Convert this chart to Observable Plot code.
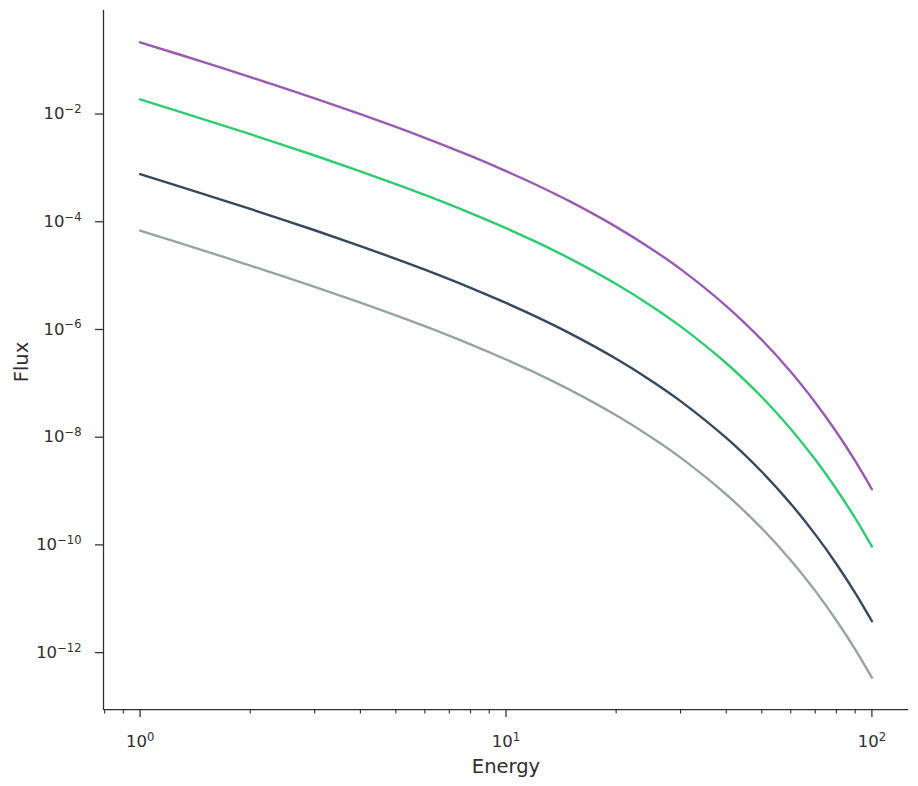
<!DOCTYPE html>
<html>
<head>
<meta charset="utf-8">
<script src="https://cdn.jsdelivr.net/npm/d3@7"></script>
<script src="https://cdn.jsdelivr.net/npm/@observablehq/plot@0.6"></script>
<style>
  html, body { margin: 0; padding: 0; background: #ffffff; }
</style>
</head>
<body>
<div id="chart"></div>
<script>
// ---- Data ----
const energy = [1, 1.5, 2, 3, 4, 5, 6, 8, 10, 12, 15, 20, 25, 30, 40, 50, 60, 70, 80, 90, 100];

const fluxPurple = [2.15e-1, 9.09e-2, 4.86e-2, 1.96e-2, 9.96e-3, 5.77e-3, 3.62e-3, 1.67e-3, 8.74e-4, 4.97e-4, 2.36e-4, 8.04e-5, 3.12e-5, 1.32e-5, 2.72e-6, 6.41e-7, 1.64e-7, 4.42e-8, 1.25e-8, 3.62e-9, 1.08e-9];
const fluxGreen  = [1.87e-2, 7.90e-3, 4.23e-3, 1.70e-3, 8.65e-4, 5.01e-4, 3.15e-4, 1.45e-4, 7.60e-5, 4.32e-5, 2.05e-5, 6.99e-6, 2.71e-6, 1.14e-6, 2.36e-7, 5.57e-8, 1.42e-8, 3.84e-9, 1.08e-9, 3.15e-10, 9.38e-11];
const fluxDark   = [7.65e-4, 3.23e-4, 1.73e-4, 6.96e-5, 3.54e-5, 2.05e-5, 1.29e-5, 5.94e-6, 3.11e-6, 1.77e-6, 8.38e-7, 2.86e-7, 1.11e-7, 4.68e-8, 9.68e-9, 2.28e-9, 5.82e-10, 1.57e-10, 4.43e-11, 1.29e-11, 3.84e-12];
const fluxGray   = [6.82e-5, 2.88e-5, 1.54e-5, 6.20e-6, 3.16e-6, 1.83e-6, 1.15e-6, 5.29e-7, 2.77e-7, 1.58e-7, 7.47e-8, 2.55e-8, 9.89e-9, 4.17e-9, 8.62e-10, 2.03e-10, 5.19e-11, 1.40e-11, 3.95e-12, 1.15e-12, 3.42e-13];

const seriesNames  = ["Series 1", "Series 2", "Series 3", "Series 4"];
const seriesColors = ["#9b59b6", "#2ecc71", "#34495e", "#95a5a6"];

const xMajorTicks = [1, 10, 100];
const xMinorTicks = [0.8, 0.9, 2, 3, 4, 5, 6, 7, 8, 9, 20, 30, 40, 50, 60, 70, 80, 90];
const yTicks = [1e-2, 1e-4, 1e-6, 1e-8, 1e-10, 1e-12];

const xLabel = "Energy";
const yLabel = "Flux";

// ---- Build table ----
const fluxBySeries = [fluxPurple, fluxGreen, fluxDark, fluxGray];
const data = seriesNames.flatMap((name, i) =>
  energy.map((e, j) => ({ series: name, energy: e, flux: fluxBySeries[i][j] }))
);

const xDomain = [Math.pow(10, -0.1), Math.pow(10, 2.1)];
const yDomain = [Math.pow(10, -13.056), Math.pow(10, -0.0774)];
const ink = "#2e2e2e";

const powFormat = d => {
  const e = Math.round(Math.log10(d));
  return "10^" + (e < 0 ? "\u2212" + (-e) : String(e));
};

const chart = Plot.plot({
  width: 918,
  height: 786,
  marginTop: 10,
  marginRight: 10,
  marginBottom: 77,
  marginLeft: 103,
  style: { fontFamily: "'DejaVu Sans', sans-serif", fontSize: "16px", color: ink, background: "#ffffff" },
  x: { type: "log", domain: xDomain },
  y: { type: "log", domain: yDomain },
  color: { domain: seriesNames, range: seriesColors },
  marks: [
    Plot.line(data, { x: "energy", y: "flux", z: "series", stroke: "series", strokeWidth: 2.4, curve: "catmull-rom" }),
    Plot.axisX(xMinorTicks, { tickSize: 4.5, strokeWidth: 1.1, tickFormat: () => "", label: null }),
    Plot.axisX(xMajorTicks, { tickSize: 8, strokeWidth: 1.25, tickPadding: 18, tickFormat: powFormat, label: null, fontSize: 16.5 }),
    Plot.axisY(yTicks, { tickSize: 8, strokeWidth: 1.25, tickPadding: 14, tickFormat: powFormat, label: null, fontSize: 16.5 }),
    Plot.ruleX([xDomain[0]], { stroke: ink, strokeWidth: 1.25 }),
    Plot.ruleY([yDomain[0]], { stroke: ink, strokeWidth: 1.25 }),
    Plot.text([xLabel], { frameAnchor: "bottom", lineAnchor: "middle", textAnchor: "middle", dy: 57, fontSize: 19.5, fill: ink }),
    Plot.text([yLabel], { frameAnchor: "left", lineAnchor: "middle", textAnchor: "middle", rotate: -90, dx: -82, dy: 2, fontSize: 19.5, fill: ink })
  ]
});

// Render superscripts in tick labels as real text with tspans
chart.querySelectorAll('g[aria-label$="tick label"] text').forEach(t => {
  const s = t.textContent;
  if (!s.includes("^")) return;
  const [base, exp] = s.split("^");
  t.textContent = base;
  const sup = document.createElementNS("http://www.w3.org/2000/svg", "tspan");
  sup.setAttribute("font-size", "0.7em");
  sup.setAttribute("dy", "-0.55em");
  sup.textContent = exp;
  t.appendChild(sup);
});

document.getElementById("chart").appendChild(chart);
</script>
</body>
</html>
